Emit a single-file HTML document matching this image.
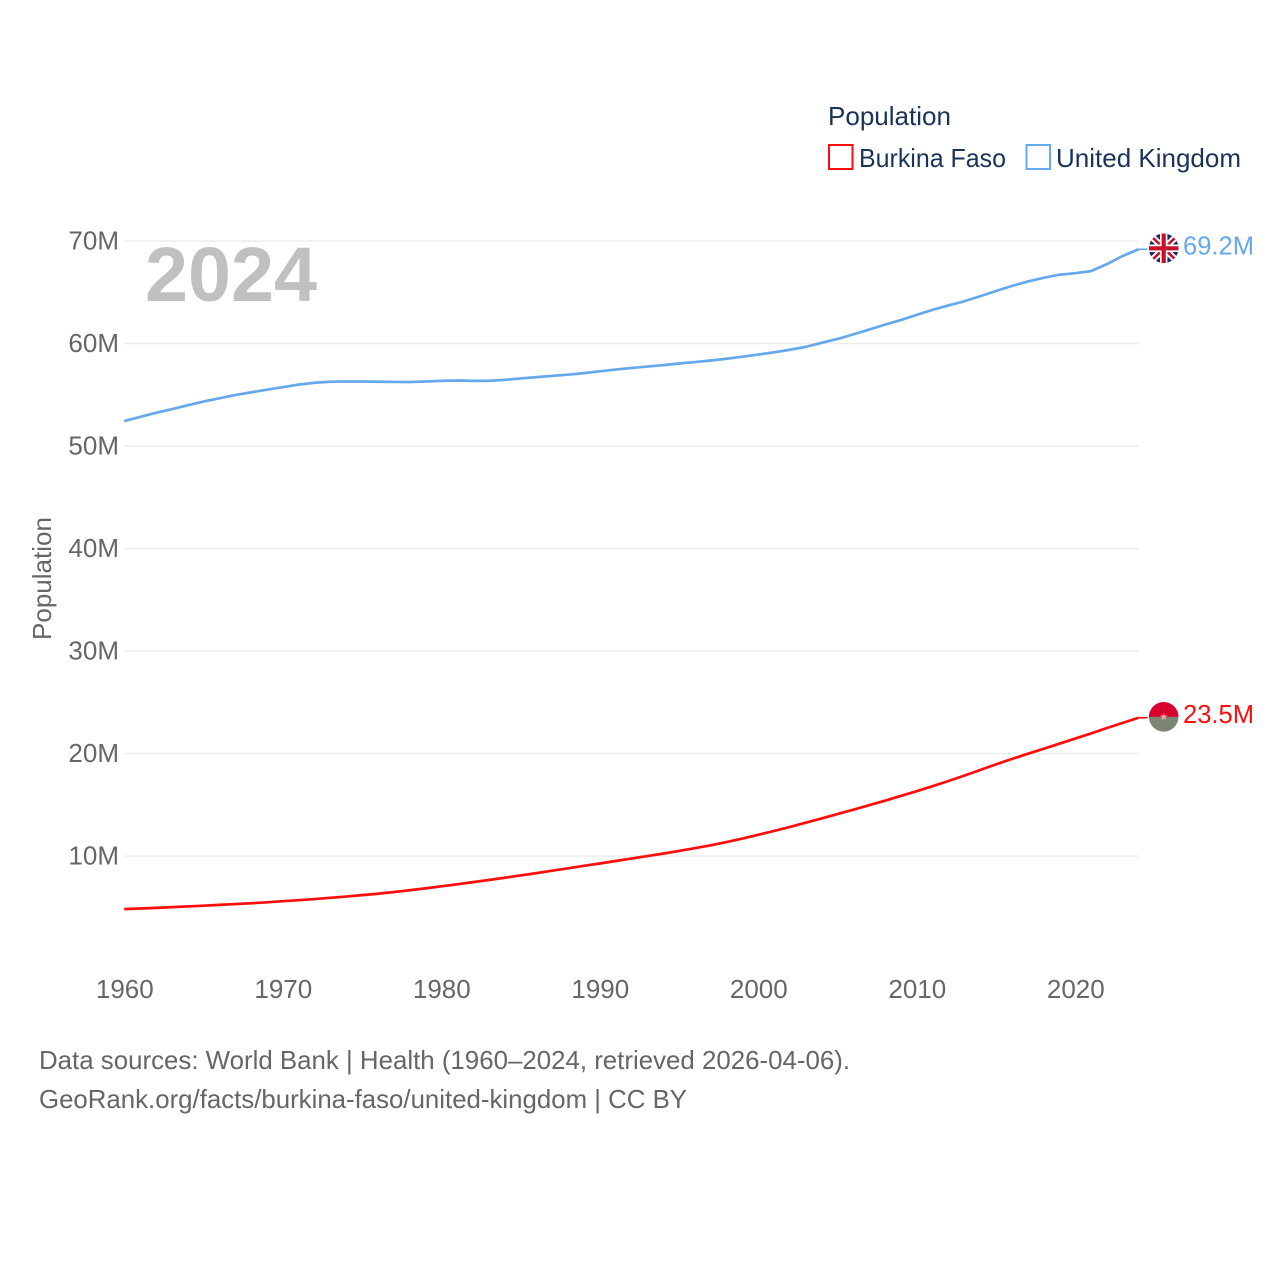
<!DOCTYPE html>
<html lang="en">
<head>
<meta charset="utf-8">
<title>Population: Burkina Faso and United Kingdom</title>
<style>
html,body{margin:0;padding:0;background:#fff;}
svg{display:block;}
text{font-family:"Liberation Sans",sans-serif;}
</style>
</head>
<body>
<svg id="chart" xmlns="http://www.w3.org/2000/svg" width="1280" height="1280" viewBox="0 0 1280 1280">
  <defs>
    <clipPath id="clip-uk"><circle cx="1163.7" cy="248.3" r="14.8"/></clipPath>
    <clipPath id="clip-bf"><circle cx="1163.7" cy="716.8" r="14.8"/></clipPath>
  </defs>
  <rect width="1280" height="1280" fill="#ffffff"/>
  <g id="grid"></g>
  <g id="y-ticks"></g>
  <g id="x-ticks"></g>
  <text x="145" y="301" font-size="77" font-weight="bold" fill="#c0c0c0" textLength="172" lengthAdjust="spacingAndGlyphs">2024</text>
  <text transform="translate(51,640) rotate(-90)" font-size="26" fill="#666666" textLength="123" lengthAdjust="spacingAndGlyphs">Population</text>
  <g id="series"></g>

  <g clip-path="url(#clip-uk)">
    <circle cx="1163.7" cy="248.3" r="15" fill="#1b2a5c"/>
    <path d="M1149 234L1179 263M1179 234L1149 263" stroke="#ffffff" stroke-width="6.5" fill="none"/>
    <path d="M1149 234L1179 263M1179 234L1149 263" stroke="#c8102e" stroke-width="2.6" fill="none"/>
    <path d="M1163.7 233V264M1148 248.3H1179" stroke="#ffffff" stroke-width="7.5" fill="none"/>
    <path d="M1163.7 233V264M1148 248.3H1179" stroke="#c8102e" stroke-width="4.2" fill="none"/>
  </g>
  <g clip-path="url(#clip-bf)">
    <rect x="1148" y="701" width="32" height="16" fill="#d8002c"/>
    <rect x="1148" y="716.8" width="32" height="16" fill="#7b8571"/>
    <polygon points="1163.7,712.8 1164.8,715.6 1167.6,715.6 1165.3,717.4 1166.2,720.2 1163.7,718.6 1161.2,720.2 1162.1,717.4 1159.8,715.6 1162.6,715.6" fill="#f2a0a0"/>
  </g>
  <text x="1183" y="254.5" font-size="26" fill="#65a9ec" textLength="71" lengthAdjust="spacingAndGlyphs">69.2M</text>
  <text x="1183" y="723" font-size="26" fill="#ff0d0d" textLength="71" lengthAdjust="spacingAndGlyphs">23.5M</text>

  <text x="828" y="125" font-size="26" fill="#1a3358" textLength="123" lengthAdjust="spacingAndGlyphs">Population</text>
  <g>
    <rect x="829" y="145" width="23.5" height="24" fill="#ffffff" stroke="#ff0d0d" stroke-width="2"/>
    <text x="859" y="167" font-size="26" fill="#1a3358" textLength="147" lengthAdjust="spacingAndGlyphs">Burkina Faso</text>
  </g>
  <g>
    <rect x="1026.5" y="145" width="23.5" height="24" fill="#ffffff" stroke="#65a9ec" stroke-width="2"/>
    <text x="1056" y="167" font-size="26" fill="#1a3358" textLength="185" lengthAdjust="spacingAndGlyphs">United Kingdom</text>
  </g>

  <text x="39" y="1069" font-size="26" fill="#666666" textLength="811" lengthAdjust="spacingAndGlyphs">Data sources: World Bank | Health (1960–2024, retrieved 2026-04-06).</text>
  <text x="39" y="1108" font-size="26" fill="#666666" textLength="648" lengthAdjust="spacingAndGlyphs">GeoRank.org/facts/burkina-faso/united-kingdom | CC BY</text>
</svg>
<script>
const firstYear = 1960;
const xTickYears = [1960, 1970, 1980, 1990, 2000, 2010, 2020];
const yTickValues = [10, 20, 30, 40, 50, 60, 70];
const yTickLabels = ['10M', '20M', '30M', '40M', '50M', '60M', '70M'];
const burkinaFasoValues = [4.83,4.89,4.95,5.02,5.09,5.16,5.24,5.32,5.40,5.49,5.60,5.70,5.81,5.93,6.05,6.19,6.33,6.49,6.67,6.85,7.05,7.25,7.46,7.67,7.89,8.11,8.34,8.58,8.81,9.05,9.28,9.52,9.76,10.0,10.24,10.5,10.77,11.05,11.37,11.71,12.08,12.46,12.85,13.26,13.67,14.1,14.53,14.97,15.41,15.87,16.33,16.82,17.33,17.85,18.4,18.95,19.47,19.98,20.47,20.97,21.47,21.97,22.5,23.0,23.5];
const unitedKingdomValues = [52.44,52.85,53.25,53.6,53.98,54.35,54.66,54.98,55.24,55.5,55.75,56.0,56.18,56.28,56.31,56.3,56.28,56.26,56.25,56.3,56.36,56.4,56.36,56.37,56.46,56.6,56.73,56.85,56.97,57.12,57.3,57.47,57.62,57.76,57.9,58.06,58.2,58.35,58.52,58.72,58.93,59.15,59.4,59.68,60.08,60.45,60.9,61.37,61.85,62.3,62.8,63.3,63.72,64.13,64.62,65.13,65.62,66.05,66.42,66.72,66.87,67.07,67.75,68.55,69.2];

const svgNS = 'http://www.w3.org/2000/svg';
const plotLeft = 124.5;
const plotRight = 1138.5;
function xScale(year) { return 124.2 + (year - 1960) * 15.85; }
function yScale(value) { return 958.6 - value * 10.25; }

const gridGroup = document.getElementById('grid');
const yGroup = document.getElementById('y-ticks');
const xGroup = document.getElementById('x-ticks');
const seriesGroup = document.getElementById('series');

yTickValues.forEach(function (v, i) {
  const line = document.createElementNS(svgNS, 'line');
  
  
  line.setAttribute('x1', plotLeft);
  line.setAttribute('x2', plotRight);
  line.setAttribute('y1', yScale(v));
  line.setAttribute('y2', yScale(v));
  line.setAttribute('stroke', '#ebebeb');
  line.setAttribute('stroke-width', '1.4');
  gridGroup.appendChild(line);

  const label = document.createElementNS(svgNS, 'text');
  
  
  label.setAttribute('x', 119);
  label.setAttribute('y', yScale(v) + 8.5);
  label.setAttribute('text-anchor', 'end');
  label.setAttribute('font-size', '26');
  label.setAttribute('fill', '#666666');
  label.textContent = yTickLabels[i];
  yGroup.appendChild(label);
});

xTickYears.forEach(function (year) {
  const label = document.createElementNS(svgNS, 'text');
  
  
  label.setAttribute('x', xScale(year) + 0.6);
  label.setAttribute('y', 998);
  label.setAttribute('text-anchor', 'middle');
  label.setAttribute('font-size', '26');
  label.setAttribute('fill', '#666666');
  label.textContent = String(year);
  xGroup.appendChild(label);
});

function drawSeries(values, color, lineName, stubName) {
  const pts = values.map(function (v, i) {
    return xScale(firstYear + i).toFixed(2) + ',' + yScale(v).toFixed(2);
  });
  const line = document.createElementNS(svgNS, 'polyline');
  
  
  line.setAttribute('points', pts.join(' '));
  line.setAttribute('fill', 'none');
  line.setAttribute('stroke', color);
  line.setAttribute('stroke-width', '2.7');
  line.setAttribute('stroke-linejoin', 'round');
  seriesGroup.appendChild(line);

  const lastValue = values[values.length - 1];
  const lastX = xScale(firstYear + values.length - 1);
  const stub = document.createElementNS(svgNS, 'line');
  
  
  stub.setAttribute('x1', lastX);
  stub.setAttribute('x2', lastX + 9);
  stub.setAttribute('y1', yScale(lastValue));
  stub.setAttribute('y2', yScale(lastValue));
  stub.setAttribute('stroke', color);
  stub.setAttribute('stroke-width', '1.6');
  seriesGroup.appendChild(stub);
}

drawSeries(unitedKingdomValues, '#65a9ec', 'united-kingdom-line', 'united-kingdom-end-connector');
drawSeries(burkinaFasoValues, '#ff0d0d', 'burkina-faso-line', 'burkina-faso-end-connector');
</script>
</body>
</html>
